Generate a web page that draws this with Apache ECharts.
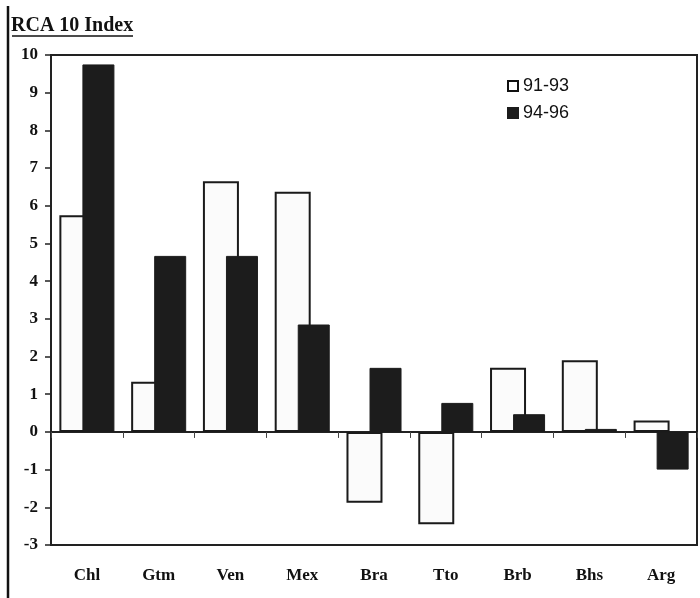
<!DOCTYPE html>
<html><head><meta charset="utf-8">
<script src="https://cdn.jsdelivr.net/npm/echarts@6/dist/echarts.min.js"></script>
<style>html,body{margin:0;padding:0;background:#fff}#c{width:700px;height:598px}</style>
</head><body><div id="c"></div>
<script>
const categories = ['Chl','Gtm','Ven','Mex','Bra','Tto','Brb','Bhs','Arg'];
const s9193 = [5.75, 1.33, 6.65, 6.37, -1.88, -2.45, 1.7, 1.9, 0.3];
const s9496 = [9.75, 4.67, 4.67, 2.85, 1.7, 0.77, 0.47, 0.08, -1.0];
const seriesNames = ['91-93', '94-96'];
const yTicks = {min: -3, max: 10, interval: 1};

const chart = echarts.init(document.getElementById('c'));
const serif = '"Liberation Serif", "DejaVu Serif", serif';
chart.setOption({
  animation: false,
  backgroundColor: '#fff',
  grid: {left: 51, right: 3, top: 55, bottom: 53, show: true, borderColor: '#222', borderWidth: 2, backgroundColor: 'transparent'},
  legend: {
    left: 502, top: 72, orient: 'vertical', itemWidth: 10, itemHeight: 10, itemGap: 9,
    textStyle: {fontFamily: '"Liberation Sans", "DejaVu Sans", sans-serif', fontSize: 18, color: '#111'},
    data: [
      {name: seriesNames[0], icon: 'rect', itemStyle: {color: '#fff', borderColor: '#111', borderWidth: 2}},
      {name: seriesNames[1], icon: 'rect', itemStyle: {color: '#1c1c1c'}}
    ]
  },
  xAxis: [
    {type: 'category', data: categories, position: 'bottom',
     axisLine: {onZero: false, show: false}, axisTick: {show: false},
     axisLabel: {margin: 22, fontFamily: serif, fontWeight: 'bold', fontSize: 17, color: '#111'}},
    {type: 'category', data: categories, position: 'bottom',
     axisLine: {onZero: true, lineStyle: {color: '#222', width: 2}},
     axisTick: {show: true, length: 6, lineStyle: {color: '#444', width: 1}},
     axisLabel: {show: false}}
  ],
  yAxis: {
    type: 'value', min: yTicks.min, max: yTicks.max, interval: yTicks.interval,
    splitLine: {show: false},
    axisLine: {show: true, lineStyle: {color: '#222', width: 2}},
    axisTick: {show: true, length: 6, lineStyle: {color: '#222', width: 1.5}},
    axisLabel: {margin: 13, fontFamily: serif, fontWeight: 'bold', fontSize: 17, color: '#111'}
  },
  series: [
    {name: seriesNames[0], type: 'bar', data: s9193, barWidth: 36, barGap: '-36%',
     itemStyle: {color: '#fbfbfb', borderColor: '#1a1a1a', borderWidth: 2}},
    {name: seriesNames[1], type: 'bar', data: s9496, barWidth: 32,
     itemStyle: {color: '#1c1c1c', borderColor: '#1c1c1c', borderWidth: 1}}
  ],
  graphic: [
    {type: 'line', shape: {x1: 8, y1: 6, x2: 8, y2: 598}, style: {stroke: '#111', lineWidth: 2.5}},
    {type: 'text', left: 11, top: 16, style: {text: 'RCA 10 Index', font: 'bold 20px ' + serif, fill: '#111'}},
    {type: 'line', shape: {x1: 12, y1: 36, x2: 133, y2: 36}, style: {stroke: '#111', lineWidth: 1.5}}
  ]
});
</script></body></html>
